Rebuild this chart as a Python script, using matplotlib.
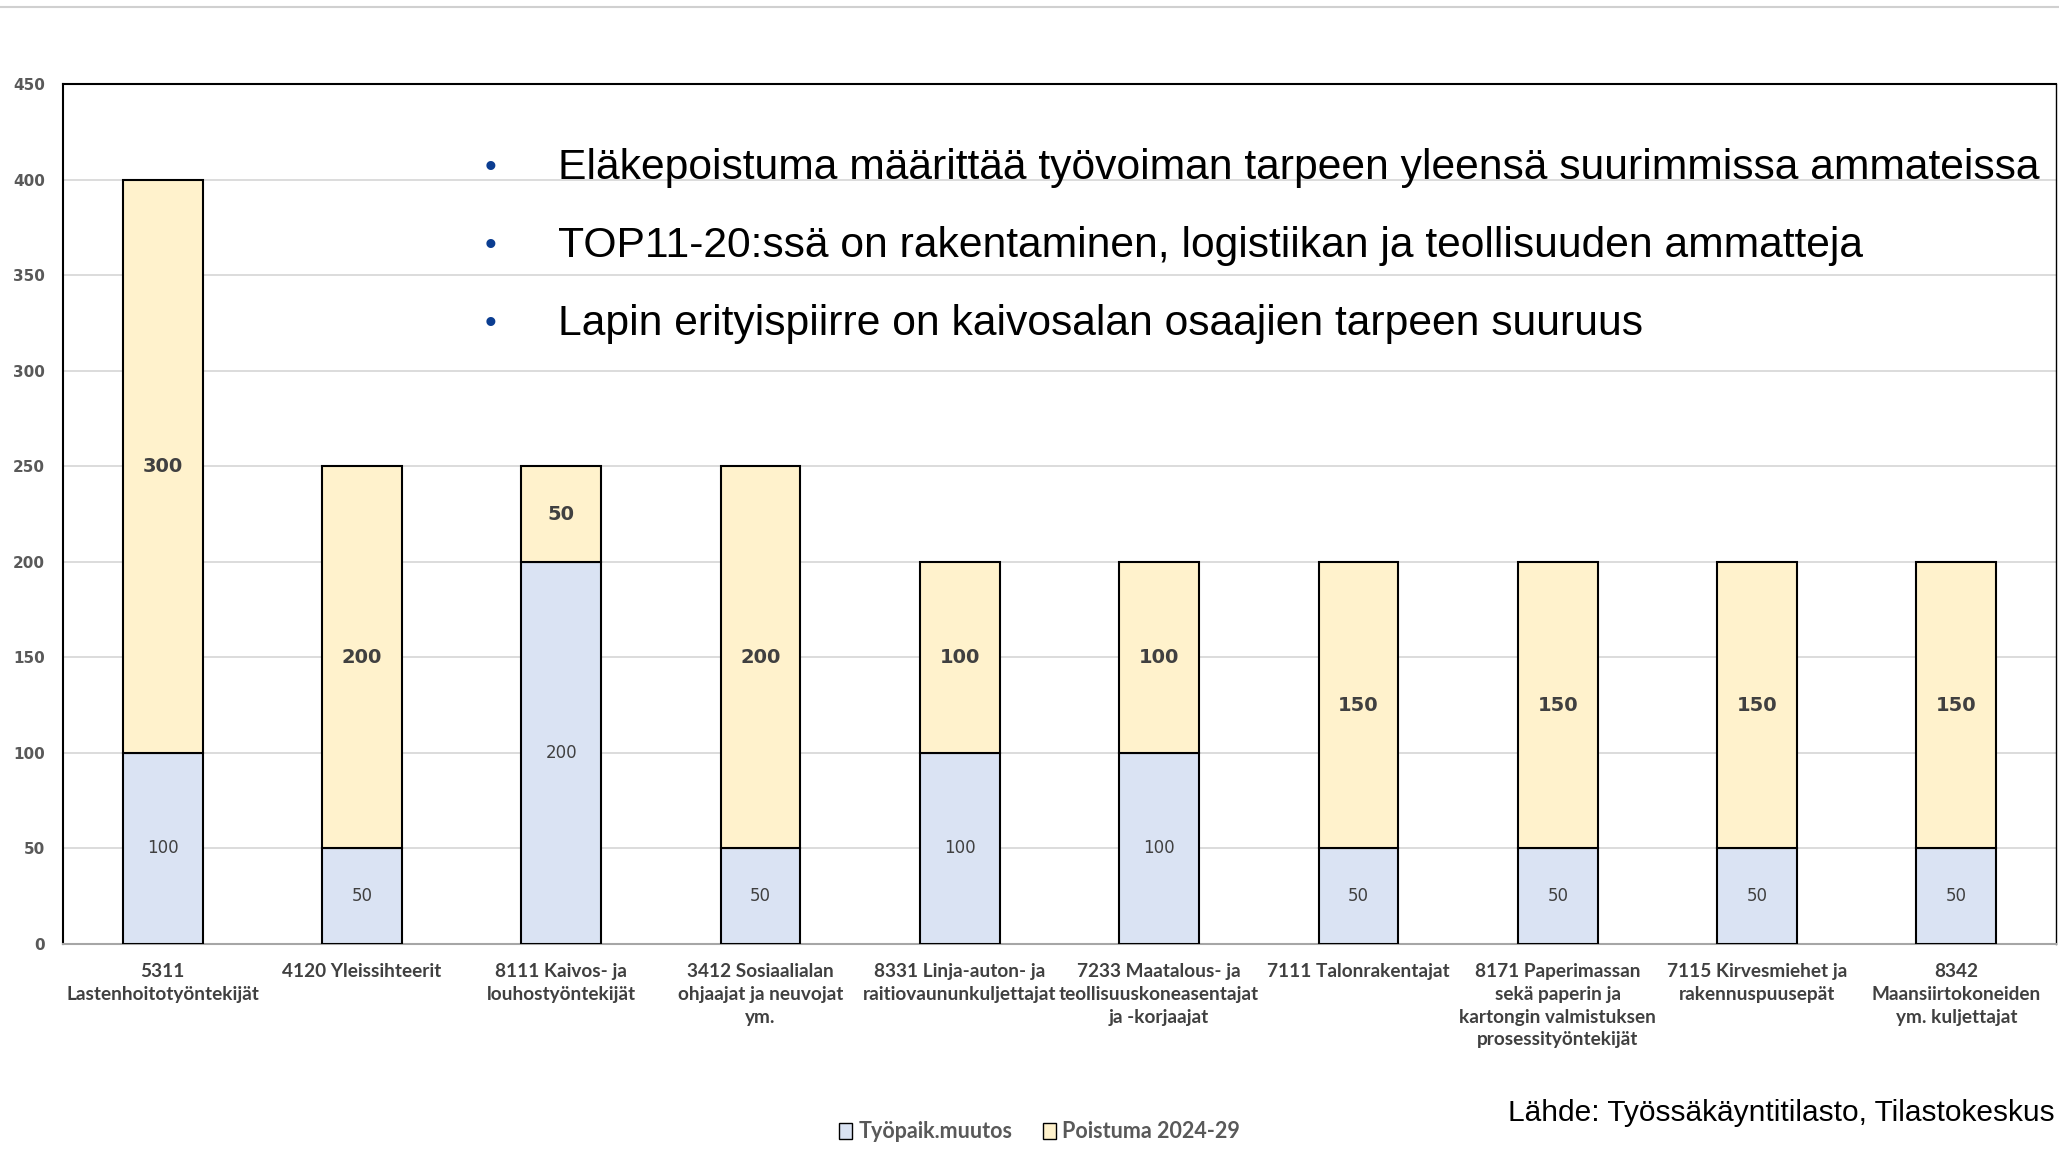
"""Lapin työvoiman tarve TOP11-20 ammateittain: pinottu pylväskuvio (Työpaik.muutos + Poistuma 2024-29)."""
import matplotlib
matplotlib.use("Agg")
import matplotlib.pyplot as plt
from matplotlib.patches import Patch
import numpy as np

categories = [
    "5311\nLastenhoitotyöntekijät",
    "4120 Yleissihteerit",
    "8111 Kaivos- ja\nlouhostyöntekijät",
    "3412 Sosiaalialan\nohjaajat ja neuvojat\nym.",
    "8331 Linja-auton- ja\nraitiovaununkuljettajat",
    "7233 Maatalous- ja\nteollisuuskoneasentajat\nja -korjaajat",
    "7111 Talonrakentajat",
    "8171 Paperimassan\nsekä paperin ja\nkartongin valmistuksen\nprosessityöntekijät",
    "7115 Kirvesmiehet ja\nrakennuspuusepät",
    "8342\nMaansiirtokoneiden\nym. kuljettajat",
]
tyopaik = [100, 50, 200, 50, 100, 100, 50, 50, 50, 50]
poistuma = [300, 200, 50, 200, 100, 100, 150, 150, 150, 150]
series_names = ["Työpaik.muutos", "Poistuma 2024-29"]
yticks = list(range(0, 451, 50))

bullets = [
    "Eläkepoistuma määrittää työvoiman tarpeen yleensä suurimmissa ammateissa",
    "TOP11-20:ssä on rakentaminen, logistiikan ja teollisuuden ammatteja",
    "Lapin erityispiirre on kaivosalan osaajien tarpeen suuruus",
]
source = "Lähde: Työssäkäyntitilasto, Tilastokeskus"

C_BLUE = "#dae3f3"
C_YELLOW = "#fff2cc"
C_TXT = "#404040"
C_TICK = "#595959"
C_BULLET = "#0b3d91"

W, H = 2059, 1162
fig = plt.figure(figsize=(W / 100, H / 100), dpi=100)
fig.patch.set_facecolor("white")
ax = fig.add_axes([63 / W, 1 - 944 / H, (2056 - 63) / W, (944 - 84) / H])

x = np.arange(len(categories))
tp = np.array(tyopaik)
po = np.array(poistuma)
ax.bar(x, tp, 0.40, color=C_BLUE, edgecolor="black", linewidth=1.5, zorder=3)
ax.bar(x, po, 0.40, bottom=tp, color=C_YELLOW, edgecolor="black", linewidth=1.5, zorder=3)

# arvot segmenttien keskelle
for i in range(len(x)):
    ax.text(x[i], tp[i] / 2, f"{tp[i]}", ha="center", va="center",
            fontsize=12, color=C_TXT, family="DejaVu Sans", zorder=4)
    ax.text(x[i], tp[i] + po[i] / 2, f"{po[i]}", ha="center", va="center",
            fontsize=14, fontweight="bold", color=C_TXT, family="DejaVu Sans", zorder=4)

ax.set_xlim(-0.5, len(x) - 0.5)
ax.set_ylim(0, 450)
ax.set_yticks(yticks)
ax.set_yticklabels([str(v) for v in yticks], fontsize=11, fontweight="bold",
                   color=C_TICK, family="DejaVu Sans")
ax.set_xticks(x)
ax.set_xticklabels(categories, fontsize=13.7, fontweight="bold", color=C_TXT,
                   family="Lato", linespacing=1.4, va="top")
ax.tick_params(axis="both", length=0)
ax.tick_params(axis="y", pad=13)
ax.tick_params(axis="x", pad=14)
ax.grid(axis="y", color="#d9d9d9", linewidth=1.3, zorder=0)
for side in ["left", "top", "right"]:
    ax.spines[side].set_color("black")
    ax.spines[side].set_linewidth(1.5)
ax.spines["right"].set_linewidth(1.0)
ax.spines["bottom"].set_color("#a6a6a6")
ax.spines["bottom"].set_linewidth(1.5)

# bullet-tekstit kuvaajan päällä
for k, line in enumerate(bullets):
    yy = 1 - (168 + k * 78) / H
    fig.text(490 / W, yy, "•", ha="center", va="center", fontsize=24,
             color=C_BULLET, family="Liberation Sans")
    fig.text(558 / W, yy, line, ha="left", va="center", fontsize=30.7,
             color="black", family="Liberation Sans")

fig.text((W - 4) / W, 1 - 1113 / H, source, ha="right", va="center", fontsize=21.5,
         color="black", family="Liberation Sans")

handles = [Patch(facecolor=C_BLUE, edgecolor="black", linewidth=1.0),
           Patch(facecolor=C_YELLOW, edgecolor="black", linewidth=1.0)]
leg = fig.legend(handles, series_names, loc="center", bbox_to_anchor=(0.505, 1 - 1132 / H),
                 ncol=2, frameon=False, handlelength=0.6, handleheight=0.8,
                 handletextpad=0.3, columnspacing=1.4,
                 prop={"family": "Lato", "weight": "bold", "size": 15.5})
for t in leg.get_texts():
    t.set_color(C_TICK)

# ohut harmaa viiva dian yläreunassa
fig.add_artist(plt.Line2D([0, 1], [1 - 7 / H, 1 - 7 / H], color="#d0d0d0", linewidth=1.5))

fig.savefig("out.png", dpi=100)
plt.close(fig)
